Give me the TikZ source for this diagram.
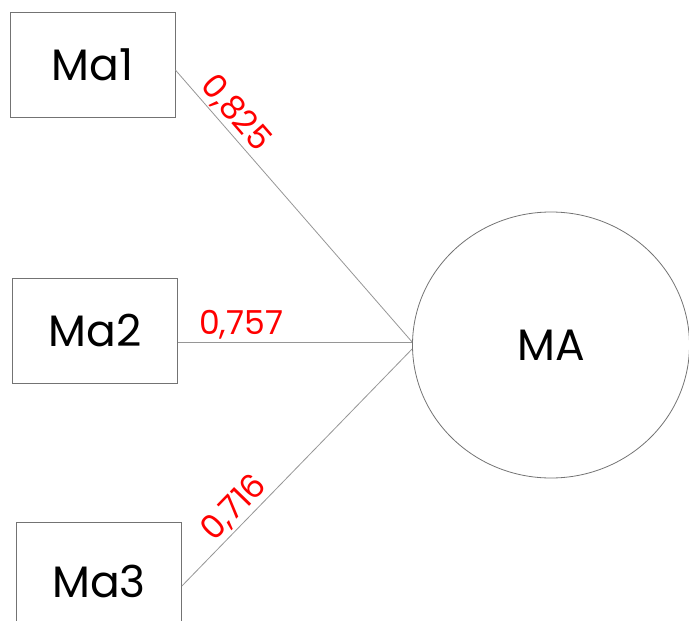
\documentclass[tikz,border=0pt]{standalone}
\usepackage{fontspec}
\setmainfont{Poppins}
\usetikzlibrary{shapes.geometric}
\definecolor{edgegray}{RGB}{150,150,150}
\definecolor{boxgray}{RGB}{115,115,115}
\begin{document}
\begin{tikzpicture}[x=1pt,y=-1pt,
  indicator/.style={draw=boxgray,line width=0.8pt,rectangle,inner sep=0pt,
    minimum width=165pt,minimum height=105pt,font=\fontsize{44}{44}\selectfont},
  construct/.style={draw=boxgray,line width=0.8pt,ellipse,inner sep=0pt,
    minimum width=277pt,minimum height=266pt,font=\fontsize{44}{44}\selectfont},
  loading/.style={draw=edgegray,line width=0.8pt},
  weight/.style={text=red,font=\fontsize{33}{33}\selectfont,sloped,above,inner sep=2pt}]
\useasboundingbox (0,0) rectangle (689,621);
\node[indicator] (ma1) at (92.5,65) {Ma1};
\node[indicator] (ma2) at (95,331) {Ma2};
\node[indicator,minimum height=118pt] (ma3) at (99,581) {Ma3};
\node[construct] (ma) at (551,345) {MA};
\draw[loading] ([yshift=-5pt]ma1.east) -- ([yshift=3pt]ma.west) node[weight,pos=0.2] {0,825};
\draw[loading] ([yshift=-11pt]ma2.east) -- ([yshift=3pt]ma.west) node[weight,pos=0.27] {0,757};
\draw[loading] ([yshift=-5pt]ma3.east) -- ([yshift=-4pt]ma.west) node[weight,pos=0.28] {0,716};
\end{tikzpicture}
\end{document}
